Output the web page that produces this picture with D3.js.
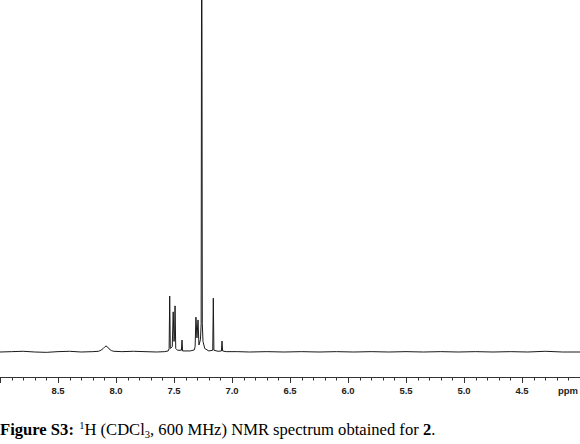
<!DOCTYPE html>
<html>
<head>
<meta charset="utf-8">
<script src="https://cdn.jsdelivr.net/npm/d3@7"></script>
<style>
  html, body { margin: 0; padding: 0; background: #fff; }
  svg { display: block; }
</style>
</head>
<body>
<div id="chart"></div>
<script>
// Chemical shift (ppm) and relative intensity (%)
const ppmValues = [
  9.00, 8.90, 8.80, 8.70, 8.60, 8.50, 8.40, 8.30, 8.20, 8.15, 8.13, 8.11, 8.095, 8.086, 8.075, 8.06, 8.04, 8.02,
  7.95, 7.85, 7.75, 7.65, 7.58, 7.55, 7.542, 7.537, 7.532, 7.515, 7.507, 7.500, 7.495, 7.491, 7.485, 7.470,
  7.436, 7.431, 7.426, 7.36, 7.325, 7.318, 7.311, 7.302, 7.293, 7.285, 7.272, 7.266, 7.261, 7.256, 7.250, 7.235,
  7.20, 7.166, 7.161, 7.156, 7.12, 7.091, 7.086, 7.081, 7.05, 6.95, 6.85, 6.70, 6.55, 6.40, 6.25, 6.10,
  5.95, 5.80, 5.65, 5.50, 5.35, 5.20, 5.05, 4.90, 4.75, 4.60, 4.45, 4.30, 4.15, 4.00
];
const intensityValues = [
  0.0, 0.1, 0.2, 0.0, -0.1, 0.1, 0.2, 0.0, 0.1, 0.2, 0.5, 1.0, 1.5, 1.7, 1.5, 0.9, 0.4, 0.2,
  0.1, 0.2, 0.1, 0.0, 0.1, 0.3, 1.0, 15.9, 1.0, 1.5, 11.4, 3.0, 4.5, 13.1, 1.0, 0.5,
  0.5, 3.4, 0.3, 0.3, 0.6, 1.5, 9.9, 4.0, 9.1, 2.0, 3.5, 8.0, 150.0, 8.0, 3.0, 1.0,
  0.3, 0.5, 15.3, 0.5, 0.2, 0.3, 3.1, 0.3, 0.1, 0.1, 0.0, 0.1, 0.0, 0.1, 0.0, 0.1,
  0.0, 0.1, 0.0, 0.1, 0.0, 0.1, 0.0, 0.1, 0.0, 0.1, 0.0, 0.2, 0.0, 0.0
];
const tickMajor = [8.5, 8.0, 7.5, 7.0, 6.5, 6.0, 5.5, 5.0, 4.5];
const axisUnit = "ppm";

const W = 580, H = 444;
const svg = d3.select("#chart").append("svg").attr("width", W).attr("height", H);

const x = d3.scaleLinear().domain([9.0, 4.0]).range([0, 580]);
const y = d3.scaleLinear().domain([0, 100]).range([352, 0]);

svg.append("defs").append("clipPath").attr("id", "plotclip")
  .append("rect").attr("x", 0).attr("y", 0).attr("width", W).attr("height", 370);

const data = ppmValues.map((p, i) => [p, intensityValues[i]]);
const line = d3.line().x(d => x(d[0])).y(d => y(d[1]));

svg.append("path")
  .attr("clip-path", "url(#plotclip)")
  .attr("d", line(data))
  .attr("fill", "none")
  .attr("stroke", "#1a1a1a")
  .attr("stroke-width", 1);

// axis
const axisY = 377;
const axisG = svg.append("g").attr("transform", `translate(0,${axisY})`);
const minorTicks = d3.range(40, 91).map(v => v / 10);
axisG.append("line").attr("x1", 0).attr("x2", W).attr("y1", 0.5).attr("y2", 0.5)
  .attr("stroke", "#333").attr("stroke-width", 1);
axisG.selectAll("line.minor").data(minorTicks).enter().append("line")
  .attr("class", "minor")
  .attr("x1", d => Math.round(x(d)) + 0.5).attr("x2", d => Math.round(x(d)) + 0.5)
  .attr("y1", 0.5).attr("y2", d => (Math.abs(d * 2 - Math.round(d * 2)) < 1e-6) ? 6 : 3.5)
  .attr("stroke", "#333").attr("stroke-width", 1);
axisG.selectAll("text.lbl").data(tickMajor).enter().append("text")
  .attr("x", d => x(d)).attr("y", 16.5)
  .attr("text-anchor", "middle")
  .attr("font-family", "'Liberation Sans', Arial, sans-serif")
  .attr("font-weight", "bold").attr("font-size", "9.5px").attr("fill", "#222")
  .text(d => d.toFixed(1));
axisG.append("text").attr("x", 578).attr("y", 16.5).attr("text-anchor", "end")
  .attr("font-family", "'Liberation Sans', Arial, sans-serif")
  .attr("font-weight", "bold").attr("font-size", "9.5px").attr("fill", "#222")
  .text(axisUnit);

// caption
const cap = svg.append("text").attr("x", 0).attr("y", 435)
  .attr("font-family", "'Liberation Serif', 'Times New Roman', serif")
  .attr("font-size", "16.6px").attr("fill", "#000");
cap.append("tspan").attr("font-weight", "bold").text("Figure S3:");
cap.append("tspan").attr("font-size", "10.5px").attr("dy", -6).text("\u00a0\u00a01");
cap.append("tspan").attr("dy", 6).text("H (CDCl");
cap.append("tspan").attr("font-size", "10.5px").attr("dy", 3).text("3");
cap.append("tspan").attr("dy", -3).text(", 600 MHz) NMR spectrum obtained for ");
cap.append("tspan").attr("font-weight", "bold").text("2");
cap.append("tspan").text(".");
</script>
</body>
</html>
